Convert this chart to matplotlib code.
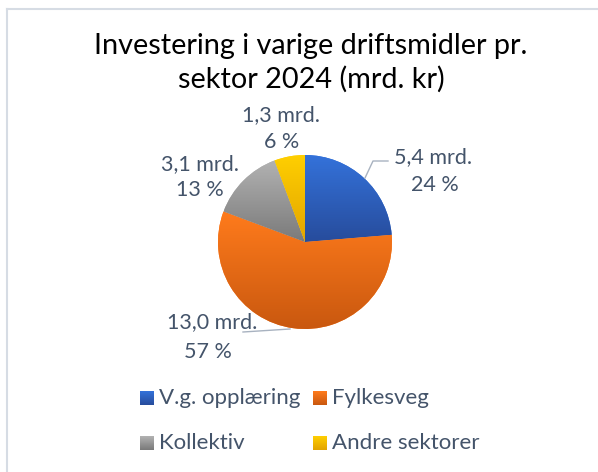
import numpy as np
import matplotlib
matplotlib.use("Agg")
import matplotlib.pyplot as plt
from matplotlib.colors import LinearSegmentedColormap
from matplotlib.lines import Line2D
from matplotlib.patches import Rectangle

# ---- data ----
categories = ["V.g. opplæring", "Fylkesveg", "Kollektiv", "Andre sektorer"]
values = [5.4, 13.0, 3.1, 1.3]
pct_labels = ["24 %", "57 %", "13 %", "6 %"]
title = "Investering i varige driftsmidler pr.\nsektor 2024 (mrd. kr)"

# ---- styles ----
top_colors = ["#3472DA", "#FF7B1C", "#B2B2B2", "#FFCF00"]
bot_colors = ["#274C9C", "#C9580F", "#7A7A7A", "#E2A400"]
text_col = "#44546A"
font = "Lato"

W, H = 598, 472
fig = plt.figure(figsize=(W / 100, H / 100), dpi=100)
ax = fig.add_axes([0, 0, 1, 1])

cx, cy, R = 305, H - 242, 87
wedges, _ = ax.pie(values, startangle=90, counterclock=False, radius=R,
                   center=(cx, cy), colors=top_colors, frame=True)
ax.set_aspect("equal")
ax.axis("off")

for w, ct, cb in zip(wedges, top_colors, bot_colors):
    ext = w.get_path().get_extents()
    cmap = LinearSegmentedColormap.from_list("g", [cb, ct])
    grad = np.linspace(0, 1, 256).reshape(-1, 1)
    im = ax.imshow(grad, cmap=cmap, origin="lower", aspect="auto",
                   extent=(ext.x0, ext.x1, ext.y0, ext.y1), zorder=2,
                   interpolation="bilinear")
    im.set_clip_path(w)
    w.set_edgecolor("none")
ax.set_xlim(0, W)
ax.set_ylim(0, H)

# ---- data labels ----
label_pos = [(433, 157, 435, 185), (212, 322, 208, 352), (200, 164, 200, 190), (281, 115, 282, 142)]
for v, p, (x1, y1, x2, y2) in zip(values, pct_labels, label_pos):
    ax.text(x1, H - y1, f"{v:.1f}".replace(".", ",") + " mrd.", ha="center", va="center",
            fontsize=15.5, color=text_col, family=font, zorder=5)
    ax.text(x2, H - y2, p, ha="center", va="center",
            fontsize=15.5, color=text_col, family=font, zorder=5)

# leader lines
lc = "#A8B2C0"
ax.plot([388, 373, 365], [H - 161, H - 161, H - 178], color=lc, lw=1.0, zorder=3)
ax.plot([243, 290], [H - 332, H - 329], color=lc, lw=1.0, zorder=3)

# ---- title ----
fig.text(311 / W, 1 - 63 / H, title, ha="center", va="center", fontsize=20.8,
         family=font, color="black", linespacing=1.3)

# ---- legend (row-wise, two columns) ----
leg_x = [140, 313]
leg_y = [398, 443]
mid_colors = [top_colors[i] for i in range(4)]
for i, (cat, ct, cb) in enumerate(zip(categories, top_colors, bot_colors)):
    x = leg_x[i % 2]
    y = leg_y[i // 2]
    cmap = LinearSegmentedColormap.from_list("g", [cb, ct])
    grad = np.linspace(0, 1, 64).reshape(-1, 1)
    ax.imshow(grad, cmap=cmap, origin="lower", aspect="auto",
              extent=(x, x + 14, H - y - 7, H - y + 7), zorder=4, interpolation="bilinear")
    ax.text(x + 19, H - y, cat, ha="left", va="center", fontsize=16,
            color=text_col, family=font, zorder=5)
ax.set_xlim(0, W)
ax.set_ylim(0, H)

# ---- border ----
bc = "#D6DCE4"
fig.add_artist(Line2D([6.5 / W, 6.5 / W], [0, 1 - 8.5 / H], color=bc, lw=1.5, transform=fig.transFigure))
fig.add_artist(Line2D([6.5 / W, 1], [1 - 8.5 / H, 1 - 8.5 / H], color=bc, lw=1.5, transform=fig.transFigure))

fig.savefig("out.png", dpi=100, facecolor="white")
